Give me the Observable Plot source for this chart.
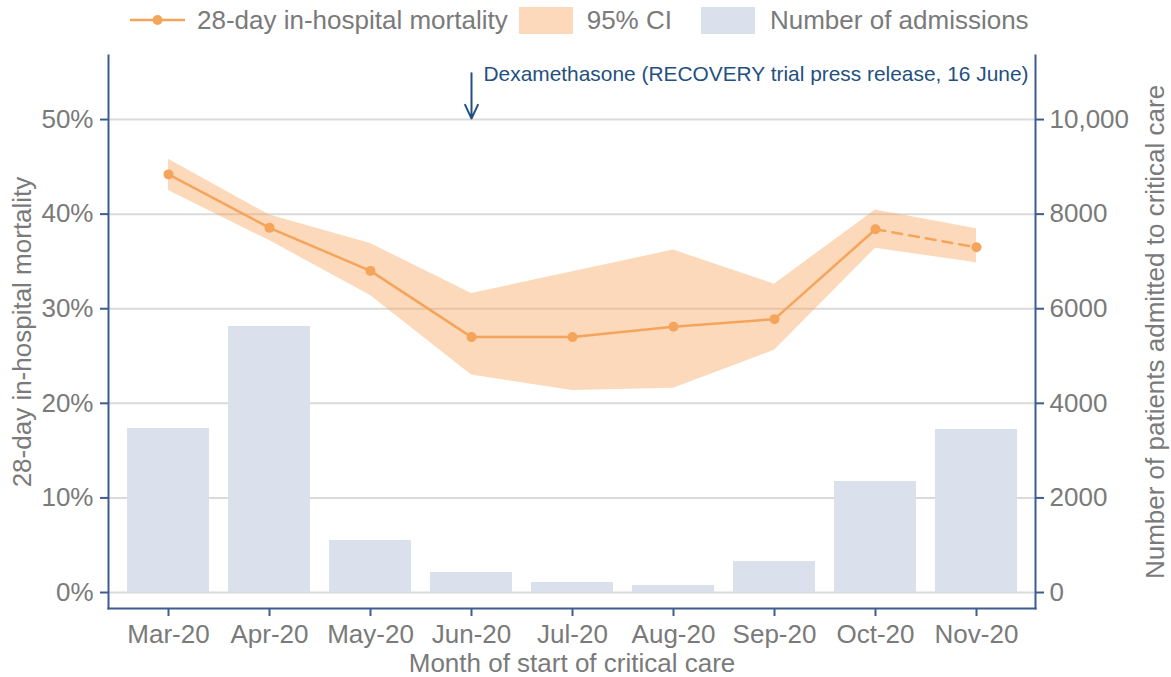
<!DOCTYPE html>
<html>
<head>
<meta charset="utf-8">
<script src="https://cdn.jsdelivr.net/npm/d3@7"></script>
<script src="https://cdn.jsdelivr.net/npm/@observablehq/plot@0.6"></script>
<style>
  html, body { margin: 0; padding: 0; background: #fff; }
  body { font-family: "Liberation Sans", Arial, sans-serif; width: 1171px; height: 677px; overflow: hidden; }
  #legend { height: 40px; width: 1171px; display: flex; align-items: center; padding-left: 130px; box-sizing: border-box; font-size: 26px; color: #7a7a7a; white-space: nowrap; }
  #legend .sym { display: block; flex: none; }
  #legend .sw { width: 54px; height: 27px; flex: none; }
</style>
</head>
<body>
<div id="legend"></div>
<div id="chart"></div>
<script>
// ---- data ----
const months = ["Mar-20", "Apr-20", "May-20", "Jun-20", "Jul-20", "Aug-20", "Sep-20", "Oct-20", "Nov-20"];
const mortality = [44.2, 38.55, 34.0, 27.0, 27.0, 28.1, 28.9, 38.4, 36.5];
const ciLower = [42.5, 37.2, 31.4, 23.0, 21.35, 21.6, 25.6, 36.4, 34.85];
const ciUpper = [45.8, 39.9, 36.9, 31.6, 33.9, 36.2, 32.6, 40.45, 38.45];
const admissions = [3467, 5624, 1099, 423, 211, 148, 655, 2347, 3446];
const leftTicks = [0, 10, 20, 30, 40, 50];
const leftTickLabels = ["0%", "10%", "20%", "30%", "40%", "50%"];
const rightTickLabels = ["0", "2000", "4000", "6000", "8000", "10,000"];
const admissionsPerPercent = 200; // 10% on the left axis = 2000 admissions on the right axis
const annotationMonth = ["Jun-20"];
const annotationText = ["Dexamethasone (RECOVERY trial press release, 16 June)"];
const annotationArrowFrom = [54.9];
const annotationArrowTo = [50.1];
const annotationTextY = [54.8];
const legendLabels = ["28-day in-hospital mortality", "95% CI", "Number of admissions"];
const xTitle = "Month of start of critical care";
const yTitleLeft = "28-day in-hospital mortality";
const yTitleRight = "Number of patients admitted to critical care";

// ---- styles ----
const orange = "#f5a55b";
const barColor = "#dae0ec";
const axisColor = "#3e5d8f";
const textColor = "#7a7a7a";
const annColor = "#24507f";
const gridColor = "#dadada";
const font = "'Liberation Sans', Arial, sans-serif";

const data = months.map((m, i) => ({
  month: m,
  mort: mortality[i],
  lo: ciLower[i],
  hi: ciUpper[i],
  adm: admissions[i],
  admPct: admissions[i] / admissionsPerPercent
}));
const annotation = annotationMonth.map((m, i) => ({
  month: m, from: annotationArrowFrom[i], to: annotationArrowTo[i], textY: annotationTextY[i], label: annotationText[i]
}));

// ---- legend ----
const legend = document.getElementById("legend");
legend.innerHTML = `
  <svg class="sym" width="55" height="20" style="margin-right:12px">
    <line x1="0" y1="10" x2="55" y2="10" stroke="${orange}" stroke-width="2.5"></line>
    <circle cx="27.5" cy="10" r="5" fill="${orange}"></circle>
  </svg>
  <span style="margin-right:11px">${legendLabels[0]}</span>
  <div class="sw" style="background:${orange};opacity:0.42;margin-right:14px"></div>
  <span style="margin-right:29px">${legendLabels[1]}</span>
  <div class="sw" style="background:${barColor};margin-right:15px"></div>
  <span>${legendLabels[2]}</span>`;

// ---- chart ----
const chart = Plot.plot({
  width: 1171,
  height: 637,
  marginTop: 15,
  marginBottom: 69,
  marginLeft: 108,
  marginRight: 136,
  style: { fontFamily: font, fontSize: "26px", color: textColor, background: "white", overflow: "visible" },
  x: { type: "band", domain: months, paddingInner: 0.19, paddingOuter: 0.166, label: null },
  y: { domain: [-1.69, 56.77], label: null },
  marks: [
    Plot.gridY(leftTicks, { stroke: gridColor, strokeWidth: 2, strokeOpacity: 1 }),
    Plot.barY(data, { x: "month", y: "admPct", fill: barColor }),
    Plot.areaY(data, { x: "month", y1: "lo", y2: "hi", fill: orange, fillOpacity: 0.42 }),
    Plot.line(data.slice(0, 8), { x: "month", y: "mort", stroke: orange, strokeWidth: 2.5 }),
    Plot.line(data.slice(7), { x: "month", y: "mort", stroke: orange, strokeWidth: 2.5, strokeDasharray: "10,7" }),
    Plot.dot(data, { x: "month", y: "mort", r: 5, fill: orange }),
    Plot.axisY(leftTicks, {
      anchor: "left", tickSize: 8, tickPadding: 7, label: null, fontSize: 26,
      tickFormat: d => leftTickLabels[leftTicks.indexOf(d)],
      stroke: axisColor, fill: textColor, strokeWidth: 2
    }),
    Plot.axisY(leftTicks, {
      anchor: "right", tickSize: 8, tickPadding: 6, label: null, fontSize: 26,
      tickFormat: d => rightTickLabels[leftTicks.indexOf(d)],
      stroke: axisColor, fill: textColor, strokeWidth: 2
    }),
    Plot.axisX({
      anchor: "bottom", tickSize: 8, tickPadding: 8, label: null, fontSize: 26,
      stroke: axisColor, fill: textColor, strokeWidth: 2
    }),
    Plot.frame({ anchor: "left", stroke: axisColor, strokeWidth: 2 }),
    Plot.frame({ anchor: "right", stroke: axisColor, strokeWidth: 2 }),
    Plot.frame({ anchor: "bottom", stroke: axisColor, strokeWidth: 2 }),
    Plot.arrow(annotation, { x: "month", y1: "from", y2: "to", stroke: annColor, strokeWidth: 2, headLength: 12, headAngle: 50 }),
    Plot.text(annotation, { x: "month", y: "textY", text: "label", textAnchor: "start", lineAnchor: "middle", dx: 12, fill: annColor, fontSize: 20.9 }),
    Plot.text([yTitleLeft], { frameAnchor: "left", textAnchor: "middle", lineAnchor: "middle", rotate: -90, dx: -86, fill: textColor, fontSize: 26 }),
    Plot.text([yTitleRight], { frameAnchor: "right", textAnchor: "middle", lineAnchor: "middle", rotate: -90, dx: 120, fill: textColor, fontSize: 26 }),
    Plot.text([xTitle], { frameAnchor: "bottom", textAnchor: "middle", lineAnchor: "middle", dy: 55, fill: textColor, fontSize: 26 })
  ]
});
document.getElementById("chart").appendChild(chart);
</script>
</body>
</html>
